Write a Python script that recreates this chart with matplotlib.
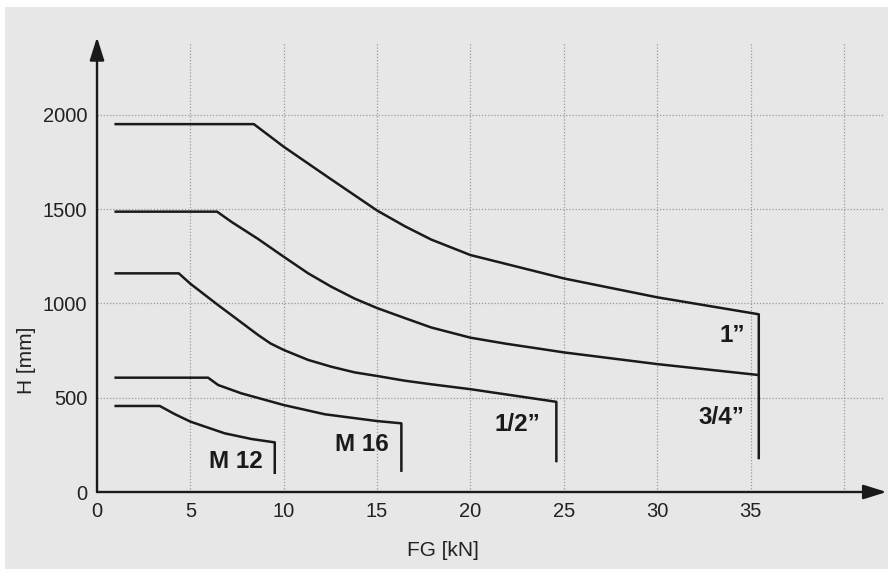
import matplotlib
matplotlib.use('Agg')
import matplotlib.pyplot as plt
from matplotlib.patches import Rectangle

### H over FG curves for the different thread sizes.

# 1" curve (drops down at the end onto the 3/4" end point)
fg_1 = [1, 8.4, 10, 12.5, 15, 16.5, 17.9, 20, 23.8, 25, 30, 35.44, 35.44]
h_1 = [1950, 1950, 1830, 1660, 1492, 1408, 1338, 1256, 1162, 1132, 1032, 942, 620]

# 3/4" curve
fg_34 = [1, 6.43, 7.2, 8.63, 10, 11.31, 12.55, 13.8, 15, 16.48, 17.9, 20, 21.9, 23.8, 25, 30,
         35.44, 35.44]
h_34 = [1486, 1486, 1432, 1341, 1247, 1159, 1088, 1025, 975, 922, 872, 818, 786, 758, 740, 678,
        620, 180]

# 1/2" curve
fg_12 = [1, 4.38, 5, 6.48, 7.2, 8.63, 9.3, 10, 11.31, 12.55, 13.8, 15, 16.48, 17.9, 20, 24.6,
         24.6]
h_12 = [1159, 1159, 1104, 991, 938, 832, 787, 753, 700, 664, 634, 615, 590, 571, 545, 478,
        164]

# M 16 curve
fg_m16 = [1, 5.95, 6.49, 7.73, 10, 12.2, 15, 16.3, 16.3]
h_m16 = [606, 606, 567, 523, 461, 412, 376, 364, 113]

# M 12 curve
fg_m12 = [1, 3.36, 4.16, 5, 6.84, 8.27, 9.52, 9.52]
h_m12 = [456, 456, 413, 373, 311, 281, 263, 102]

curves = [(fg_1, h_1), (fg_34, h_34), (fg_12, h_12), (fg_m16, h_m16), (fg_m12, h_m12)]

# curve labels: text, x, y (right edge / middle)
labels = [('1\u201d', 34.68, 827),
          ('3/4\u201d', 34.68, 397),
          ('1/2\u201d', 23.75, 360),
          ('M 16', 15.61, 252),
          ('M 12', 8.86, 162)]

x_ticks = [0, 5, 10, 15, 20, 25, 30, 35, 40]
x_ticklabels = ['0', '5', '10', '15', '20', '25', '30', '35', '']
y_ticks = [0, 500, 1000, 1500, 2000]

# styles
plt.rc('font', family='Liberation Sans', size=15)

fig = plt.figure(figsize=(8.88, 5.69), dpi=100, facecolor='white')
# grey panel with a thin white margin on top and left
fig.patches.append(Rectangle((5 / 888, 0), 1, 1 - 7 / 569, transform=fig.transFigure,
                             facecolor='#e7e7e7', edgecolor='none', zorder=-1))

ax = fig.add_axes([97 / 888, 77 / 569, 788 / 888, 449 / 569])
ax.set_facecolor('none')
ax.set_xlim(0, 42.2)
ax.set_ylim(0, 2380)

for fg, h in curves:
    ax.plot(fg, h, color='#1a1a1a', lw=1.8, solid_joinstyle='round', zorder=3)

for text, x, y in labels:
    ax.text(x, y, text, ha='right', va='center', fontweight='bold', fontsize=17.5,
            color='#1a1a1a')

ax.set_xticks(x_ticks)
ax.set_xticklabels(x_ticklabels)
ax.set_yticks(y_ticks)
ax.tick_params(length=0, colors='#222222', labelsize=14.5)
ax.tick_params(axis='x', pad=7)
ax.tick_params(axis='y', pad=7)
ax.grid(True, color='#9a9a9a', linestyle=(0, (1, 1.5)), lw=0.9, zorder=1)

for side in ['top', 'right', 'left', 'bottom']:
    ax.spines[side].set_visible(False)

# axis lines with arrow heads
arrow = dict(arrowstyle='-|>,head_length=0.7,head_width=0.22', mutation_scale=20,
             color='#1a1a1a', lw=1.7, shrinkA=0, shrinkB=0)
ax.annotate('', xy=(42.28, 0), xytext=(0, 0), arrowprops=arrow, annotation_clip=False, zorder=4)
ax.annotate('', xy=(0, 2411), xytext=(0, 0), arrowprops=arrow, annotation_clip=False, zorder=4)

ax.text(-0.09, 0.294, 'H [mm]', transform=ax.transAxes, rotation=90,
        ha='center', va='center', fontsize=15, color='#222222')
ax.text(0.439, -0.131, 'FG [kN]', transform=ax.transAxes,
        ha='center', va='center', fontsize=15, color='#222222')

fig.savefig('out.png', dpi=100)
